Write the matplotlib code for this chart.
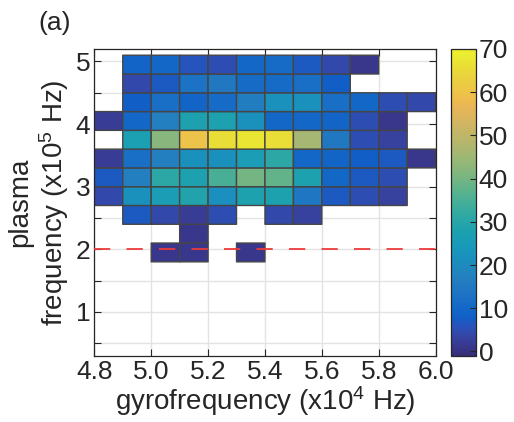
import numpy as np
import matplotlib
matplotlib.use("Agg")
import matplotlib.pyplot as plt
from matplotlib.colors import LinearSegmentedColormap

plt.rcParams['font.family'] = ['Liberation Sans', 'DejaVu Sans']
plt.rcParams['mathtext.fontset'] = 'custom'
plt.rcParams['mathtext.rm'] = 'Liberation Sans'
plt.rcParams['mathtext.it'] = 'Liberation Sans'

# --- data: 2-D histogram of counts (0 = empty bin) ---
gyro_edges = [4.8, 4.9, 5.0, 5.1, 5.2, 5.3, 5.4, 5.5, 5.6, 5.7, 5.8, 5.9, 6.0]
plasma_edges = [1.8, 2.1, 2.4, 2.7, 3.0, 3.3, 3.6, 3.9, 4.2, 4.5, 4.8, 5.1]

row_18_21 = [0, 0, 1, 1, 0, 1, 0, 0, 0, 0, 0, 0]
row_21_24 = [0, 0, 0, 1, 0, 0, 0, 0, 0, 0, 0, 0]
row_24_27 = [0, 7, 4, 2, 5, 0, 4, 3, 0, 0, 0, 0]
row_27_30 = [4, 22, 26, 29, 21, 28, 28, 14, 7, 5, 3, 0]
row_30_33 = [7, 17, 31, 28, 35, 40, 38, 28, 10, 7, 5, 0]
row_33_36 = [2, 12, 17, 22, 22, 26, 31, 10, 9, 8, 7, 1]
row_36_39 = [0, 27, 42, 60, 66, 67, 66, 46, 15, 5, 3, 0]
row_39_42 = [2, 10, 17, 28, 28, 22, 10, 10, 9, 5, 1, 0]
row_42_45 = [0, 8, 12, 9, 11, 16, 22, 22, 12, 10, 5, 4]
row_45_48 = [0, 4, 7, 13, 15, 11, 11, 12, 8, 0, 0, 0]
row_48_51 = [0, 9, 10, 6, 5, 10, 11, 7, 4, 1, 0, 0]

threshold_plasma = 2.0

x_ticks = [4.8, 5.0, 5.2, 5.4, 5.6, 5.8, 6.0]
y_ticks = [0.5, 1.0, 1.5, 2.0, 2.5, 3.0, 3.5, 4.0, 4.5, 5.0]
cbar_ticks = [0, 10, 20, 30, 40, 50, 60, 70]

# --- parula-like colormap, slightly softened ---
parula_pts = np.array([
    (0.2081, 0.1663, 0.5292), (0.2123, 0.2138, 0.6270), (0.1959, 0.2645, 0.7279),
    (0.1253, 0.3242, 0.8303), (0.0117, 0.3875, 0.8820), (0.0165, 0.4266, 0.8786),
    (0.0498, 0.4586, 0.8641), (0.0723, 0.4887, 0.8467), (0.0793, 0.5200, 0.8312),
    (0.0641, 0.5570, 0.8240), (0.0343, 0.5966, 0.8199), (0.0239, 0.6287, 0.8038),
    (0.0228, 0.6535, 0.7768), (0.0384, 0.6743, 0.7436), (0.0843, 0.6928, 0.7062),
    (0.1453, 0.7098, 0.6646), (0.2178, 0.7250, 0.6193), (0.3022, 0.7376, 0.5712),
    (0.3953, 0.7459, 0.5244), (0.4871, 0.7491, 0.4840), (0.5709, 0.7485, 0.4494),
    (0.6473, 0.7456, 0.4188), (0.7184, 0.7411, 0.3905), (0.7858, 0.7356, 0.3633),
    (0.8507, 0.7299, 0.3360), (0.9139, 0.7258, 0.3063), (0.9739, 0.7314, 0.2666),
    (0.9990, 0.7653, 0.2164), (0.9880, 0.8066, 0.1794), (0.9697, 0.8481, 0.1475),
    (0.9589, 0.8949, 0.1132), (0.9661, 0.9514, 0.0755), (0.9763, 0.9831, 0.0538),
])
lum = parula_pts @ np.array([0.299, 0.587, 0.114])
soft_pts = 0.85 * parula_pts + 0.15 * lum[:, None]
soft_pts = np.clip(soft_pts * 0.96 + 0.01, 0, 1)
parula = LinearSegmentedColormap.from_list('parula', soft_pts, N=256)

counts = np.array([row_18_21, row_21_24, row_24_27, row_27_30, row_30_33,
                   row_33_36, row_36_39, row_39_42, row_42_45, row_45_48,
                   row_48_51], dtype=float)
counts = np.ma.masked_equal(counts, 0)

ink = '#262626'
fs = 19
fig = plt.figure(figsize=(5.14, 4.22), dpi=100)
ax = fig.add_axes([0.1835, 0.157, 0.664, 0.727])
cax = fig.add_axes([0.877, 0.157, 0.049, 0.727])

ax.set_axisbelow(True)
ax.grid(True, color='#e3e3e3', linewidth=1.0)

mesh = ax.pcolor(gyro_edges, plasma_edges, counts, cmap=parula,
                 vmin=-1, vmax=70, edgecolors='#454545', linewidth=1.0)
ax.axhline(threshold_plasma, color='#ee3b3b', linestyle=(0, (9, 9)),
           linewidth=1.3, zorder=5)

ax.set_xlim(4.8, 6.0)
ax.set_ylim(0.3, 5.2)
ax.set_xticks(x_ticks)
ax.set_xticklabels([f'{v:.1f}' for v in x_ticks])
ax.set_yticks(y_ticks)
ax.set_yticklabels([f'{v:g}' if float(v).is_integer() else '' for v in y_ticks])
ax.tick_params(direction='in', length=5, width=0.8, colors=ink,
               labelsize=fs, top=True, right=True, pad=3)
for s in ax.spines.values():
    s.set_color(ink)
    s.set_linewidth(0.9)

ax.set_xlabel('gyrofrequency (x10$^4$ Hz)', fontsize=fs + 1, color=ink, labelpad=0)
ax.set_ylabel('plasma\nfrequency (x10$^5$ Hz)', fontsize=fs + 1, color=ink,
              labelpad=3, linespacing=1.15)

cb = fig.colorbar(mesh, cax=cax, ticks=cbar_ticks)
cb.outline.set_edgecolor(ink)
cb.outline.set_linewidth(0.9)
cax.tick_params(direction='in', length=4, width=0.8, colors=ink,
                labelsize=fs, pad=2)

fig.text(0.075, 0.945, '(a)', fontsize=fs, color=ink, ha='left', va='center')

fig.savefig('out.png', dpi=100)
